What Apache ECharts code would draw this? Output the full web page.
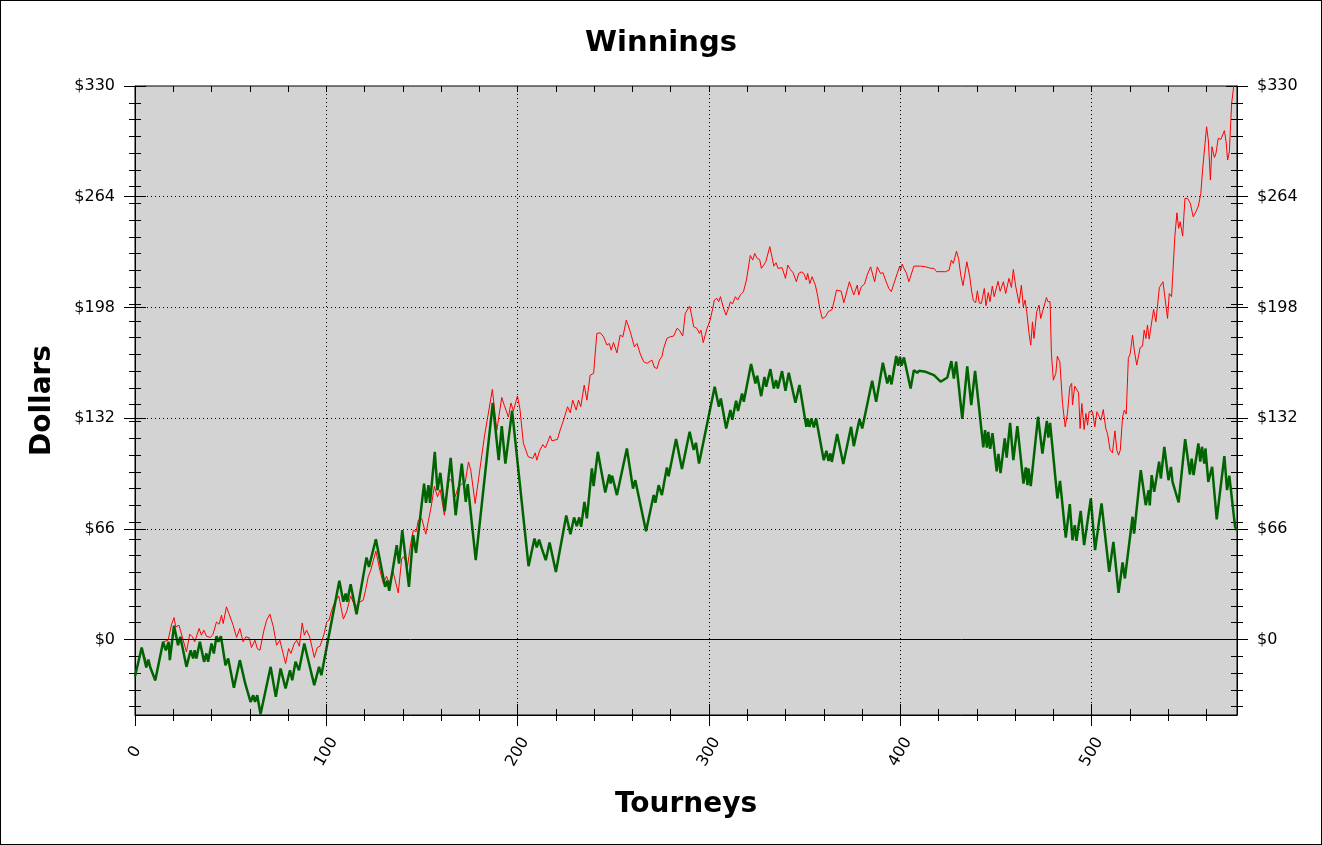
<!DOCTYPE html>
<html>
<head>
<meta charset="utf-8">
<script src="https://cdn.jsdelivr.net/npm/echarts@6/dist/echarts.min.js"></script>
<style>
  html, body { margin: 0; padding: 0; background: #fff; }
  #chart { position: absolute; left: 0; top: 0; width: 1322px; height: 845px; }
  #frame { position: absolute; left: 0; top: 0; width: 1322px; height: 845px; box-sizing: border-box; border: 1px solid #000; pointer-events: none; }
</style>
</head>
<body>
<div id="chart"></div>
<div id="frame"></div>
<script>
// ---- data ----
const xMajorTicks = [0, 100, 200, 300, 400, 500];
const xMinorTicks = [0, 20, 40, 60, 80, 100, 120, 140, 160, 180, 200, 220, 240, 260, 280, 300, 320, 340, 360, 380, 400, 420, 440, 460, 480, 500, 520, 540, 560];
const yMajorTicks = [0, 66, 132, 198, 264, 330];
const yMinorTicks = [-40, -30, -20, -10, 0, 10, 20, 30, 40, 50, 60, 70, 80, 90, 100, 110, 120, 130, 140, 150, 160, 170, 180, 190, 200, 210, 220, 230, 240, 250, 260, 270, 280, 290, 300, 310, 320, 330];
const xRange = [0, 576];
const yRange = [-45, 330];

// red series: [tourney, dollars]
const winningsRed = [
  [0,-22],[3.5,-5],[5.9,-13],[8,-16.7],[10.4,-24.7],[14.7,-1.4],[17.3,-0.4],[19,8.5],[20.4,13.1],[21.3,7.6],[23,8.5],[23.7,5.6],
  [26.9,-7.4],[28.6,3.2],[30,1.6],[31.2,-1.4],[33.5,6.6],[34.7,2.6],[36,5.6],[37.3,2],[39.4,1.2],[40.8,3.2],[42.6,10.5],[44,9.1],
  [45.2,14.5],[46.1,9.5],[47.8,19.5],[48.7,20.5],[51.3,8.5],[53.1,1.2],[54.8,6.6],[56.5,-1.4],[57.9,1.6],[59.7,1],[60.9,-4.8],
  [62.7,-0.4],[63.9,-5.4],[65.3,-6.4],[67.4,5.6],[68.8,11.5],[70.5,15.1],[72.3,7.6],[74,-3.4],[75.7,-0.4],[78.7,-14.3],[80.3,-5.4],
  [81.5,-8.3],[83.1,-2.8],[84.5,-0.4],[85.9,-4],[87.4,9.9],[88.5,2.6],[89.7,5.6],[91.4,1.2],[93.7,-10.7],[95.3,-4.8],[96.7,-4],
  [97.7,-4.8],[98.8,3.2],[100.2,10.5],[101.4,11.5],[102.8,17.5],[104.5,22.5],[106.5,26],[108.9,12.2],[110.6,16.5],[112.7,26],
  [115,19.5],[117.6,22.4],[119.3,23.4],[120.5,29.4],[121.9,37.4],[123.2,41.3],[125.9,52.7],[128,41.3],[129.8,33.4],[131.5,37.7],
  [132.9,33.4],[134.7,41.3],[137.6,27.8],[139.4,48.3],[140.6,49.3],[142.4,43.3],[144.1,57.2],[145.5,65.2],[146.9,64.2],[148.1,71.1],
  [149.9,72.1],[152,62.8],[153.4,71.1],[154.8,79.1],[156.5,91.4],[158.1,85.1],[159.5,89.4],[161.7,74.1],[163,87],[164.2,95.4],
  [165.6,95],[167.3,85.1],[169,91],[171.1,93],[172.5,93],[174.3,105.9],[175.5,101],[177.8,81.1],[182.6,120.8],[186.8,149.1],
  [189.1,124.8],[191.7,144.3],[193,139.7],[195.2,132.6],[196.5,141],[197.8,136.3],[199.9,145.2],[201.2,137.5],[203,117],[205.5,109],
  [207.9,108],[209.2,111.3],[210,106.9],[211.6,112.9],[213.2,116.2],[214.5,114.2],[217,121.5],[217.9,118.5],[220.8,119.3],[222.2,124.8],
  [224,130.8],[224.8,130.4],[226.1,138.8],[227.5,135.2],[228.8,142.7],[230.6,136.8],[231.8,142.7],[233,138.8],[234.8,151.7],[236.2,142.7],
  [237.9,157.6],[239.7,158.6],[241.4,182.5],[243.2,182.9],[244.9,180.5],[246.7,175.5],[247.9,176.5],[248.9,172.5],[250.1,177.1],
  [251.9,170.9],[253.6,181.5],[255,180.5],[256.8,190.4],[258.9,183.5],[259.8,184.5],[261,174.5],[262.4,176.5],[264.1,170.2],[265.9,165.6],
  [267.6,164.6],[270.2,166.6],[271.5,162.2],[272.9,161.6],[274.1,166.6],[275.4,168.6],[276.3,173.5],[278,179.5],[279.8,180.5],[281.5,180.9],
  [283.3,185.5],[284.5,184.5],[286.3,180.9],[287.6,194.4],[289.9,198.8],[291.1,192.4],[292,186.5],[293.7,185.5],[295,182.5],[295.8,184.5],
  [297,177],[298,177],[299,185.5],[300.5,190],[302,197.4],[302.8,202.4],[304.2,203.4],[305.1,201.4],[306,204.4],[307.5,198],[308.9,193.4],
  [310.5,198.4],[311.2,201.4],[312.3,200],[313.8,204.4],[315,202.4],[316.4,205.4],[318,207.3],[319.6,214.3],[321.6,229],[322.9,226.2],
  [323.9,230.2],[325.2,227.2],[326.5,226.6],[327.4,221.3],[328.6,223.2],[329.7,225.2],[330.4,224.2],[331.8,234.2],[333,227.8],[333.9,222.6],
  [335.1,224.6],[336.1,221.3],[338.2,221.7],[340,215.3],[341.2,223.2],[342.6,220.6],[344,218.6],[345.7,213.3],[346.9,218.2],[348.3,219.2],
  [349.6,218.2],[350.9,214.3],[351.6,218.2],[352.7,212.2],[353.9,216.3],[355.6,211.3],[356.9,204.4],[357.9,197.4],[359.2,191.4],[360.9,192.4],
  [362.3,195.4],[364.4,196.8],[366.7,208.3],[369.1,207.7],[370.5,200.8],[371.4,200.4],[373.4,213.3],[374.3,213.7],[375.7,205.4],[377.5,211.3],
  [378.3,205.4],[379.6,210.3],[381.3,211.9],[382.7,217.3],[384.5,222.2],[386.6,213.3],[388,222.2],[389.7,218.2],[390.9,218.8],[392.3,214.3],
  [394,209.3],[395.3,207.4],[396.7,212.3],[398.4,218.2],[399.7,222.6],[400.2,220.2],[401,223.8],[401.9,221.3],[403.3,218.2],[404.5,213.3],
  [405.4,214.3],[407.1,222.6],[410.6,222.6],[413.3,222.2],[415.9,221.3],[417.6,221.3],[419,219.3],[423.7,219.3],[425.5,220.2],[426.7,226.2],
  [427.7,224.2],[429.4,231.5],[430.5,227],[431.6,217.3],[432.8,211],[434.8,225.2],[436.4,215.8],[437.2,208.3],[438.2,202],[439.4,200.8],
  [440.3,207.9],[441.3,200.6],[442.4,200.4],[443.4,199.4],[443.9,209.3],[444.8,199],[446,206.8],[446.9,201.4],[448.1,210.7],[449.1,204.4],
  [451.1,213.5],[452.2,207.6],[453.9,213.3],[455.1,206.3],[456.8,215.3],[458.1,209.9],[459.1,220.6],[460.3,210.7],[461.2,210.3],[462.1,200.4],
  [463.3,211.3],[464.3,198.4],[465.2,202.4],[466.1,195.4],[467.3,182.5],[468.2,175.5],[469.1,189.4],[469.9,179.5],[471.3,195.4],[472.5,199.4],
  [473.4,191.4],[474.4,191.4],[476.4,203.9],[477.2,201.4],[478.3,201.4],[479,170.5],[480,154.6],[481.3,158.6],[482.1,168.9],[483.4,165.6],
  [484.8,140.7],[486.2,126.8],[487.4,134.8],[488.6,150.7],[489.6,152.7],[490,139.8],[491.2,151.1],[493.2,147.1],[494,125.8],[494.9,140.7],
  [496.1,125.2],[497,134.8],[497.9,127.8],[498.7,135.8],[500.5,135.8],[501.7,126.8],[502.8,135.8],[504,132.8],[504.9,130.8],[506.1,137.1],
  [507.4,125.8],[508.3,122.8],[509.7,112.9],[510.9,111.3],[512.2,124.4],[513.2,112.9],[514.1,109.9],[515,112.9],[516.2,132.8],[517.1,136.8],
  [518.1,134.4],[519.2,167.6],[520.2,170.5],[521.4,181.5],[522.3,172.5],[523.6,163.6],[524.4,164.6],[525.4,174.1],[526.6,174.9],[527.5,184.5],
  [528.4,179.5],[529.2,187.4],[530.1,179.1],[531,180.1],[532.4,196.8],[533.6,189.4],[535.4,209.8],[536.2,209.3],[537.3,213.3],[538.3,213.3],
  [539.7,191.4],[540.6,206.3],[541.8,204.4],[543.5,240.1],[544.6,254.4],[545.5,245.1],[546.3,249.1],[547.6,240.5],[548.8,263],[550.2,263],
  [551.6,260],[553.1,252],[554.5,255],[555.8,258.4],[557.1,266],[558,279.9],[559.3,295.8],[560.1,305.7],[561,297.8],[562.1,273.9],
  [562.9,293.8],[564.2,287.4],[565,289.8],[566.2,298.8],[567.6,298.2],[568.5,300.8],[569.4,303.4],[570.3,296.8],[571.1,285.9],[572,290.8],
  [573.2,319.7],[574.3,330]
];

// green series: [tourney, dollars]
const winningsGreen = [
  [0,-22],[3.5,-4.8],[5.9,-16.7],[7,-11.9],[8,-16.7],[10.6,-24.3],[14.7,-1.4],[16.1,-6.4],[17.6,-1.4],[18.2,-12.3],[20.4,8.2],[22.5,-3.4],
  [23.7,1.6],[26.9,-16.3],[29.1,-6.4],[30.4,-11.3],[31.2,-6.4],[32.1,-11.3],[33.9,-1.4],[36.1,-13.3],[37.3,-8.3],[38.2,-13.3],[40,-2.4],
  [41.2,-8.3],[42.6,2],[43.6,-1.4],[44.9,2],[47.3,-15.3],[48.7,-11.3],[51.7,-28.8],[54.8,-12.3],[57.6,-26.2],[60.4,-37.2],[61.8,-33.2],
  [62.7,-37.2],[63.9,-33.2],[65.6,-44.5],[70.9,-16.3],[73.6,-34.2],[76.1,-17.3],[78.7,-29.2],[81,-18.3],[82.2,-24.3],[83.9,-13.3],
  [85.7,-18.3],[88.5,-2.4],[89.7,-8.3],[93.7,-27.2],[96.2,-16.3],[97.4,-21.3],[106.8,35],[108.9,22.5],[110.1,27.4],[110.9,22.5],
  [112.7,33],[115.8,15.1],[121,48.9],[122.3,43.3],[125.9,59.8],[130.7,31.4],[131.9,35],[132.9,29],[136.8,56.2],[138,45.3],[139.7,65.2],
  [143.2,31.4],[145.4,62.2],[146.9,51.7],[151.1,93],[152.1,81.5],[153.4,92],[154.2,81.5],[156.7,111.9],[158.1,89],[159.6,99.4],
  [161.9,76.5],[165,108.3],[167.6,74.1],[170.8,104.9],[172.9,82.1],[173.9,92.6],[178.1,47.3],[187,141.1],[190.1,107],[191.7,127.2],
  [193.6,104.9],[197.1,136.4],[205.7,43.7],[208.8,60.2],[210,54.9],[211.2,59.6],[212.6,54.3],[214.7,47.3],[216.7,57.8],[220,40.3],
  [225.4,73.9],[227.6,62.8],[229.5,72.8],[230.9,67.6],[232.2,72.8],[233.2,67.2],[234.9,82.1],[236.2,72.2],[238.8,102],[239.7,91.4],
  [241.9,111.9],[245.8,87.7],[247.9,98.4],[248.6,93],[249.4,97.6],[251.9,86.1],[257.1,113.9],[260.3,90],[261.5,95],[267.1,64.6],
  [271.1,86.1],[272,81.5],[273.7,92],[275.4,86.1],[278,102.6],[278.9,97.4],[282.8,119.5],[285.9,101.6],[289.9,123.9],[292,113],
  [293.2,117.3],[294.8,104.9],[303,150.7],[305.2,138.8],[306.2,143.7],[309,125.8],[311.2,136.8],[312.2,131],[314.2,142.4],[315.2,136.3],
  [317.3,146.7],[318.2,141.7],[322,164.2],[324.3,152.7],[325.2,157.2],[327.3,145.1],[329,156.6],[329.9,150.7],[332.1,161.2],[333.9,149.7],
  [335.1,154.6],[336,149.7],[338.2,160],[340,148.3],[341.7,159],[345.2,141.1],[347.3,151.7],[350.9,126.8],[351.6,131.8],[352.5,126.8],
  [353.6,131.8],[354.8,126.4],[356,131.8],[360,106.9],[361.4,112.5],[362.5,106.5],[363.5,111],[364.2,105.9],[367,122.5],[370.2,104.6],
  [374.3,126.8],[375.7,115.3],[378.7,131.4],[380.1,125.8],[385.3,154.3],[387.4,141.7],[390.9,165],[393.2,152.7],[394.4,157.6],[395.4,152.1],
  [397.9,169],[398.9,163.2],[399.8,168.6],[400.7,163.2],[401.9,168.2],[405.4,149.7],[407.1,160.6],[408.9,159],[409.8,160.2],[413.3,159.6],
  [417.6,157.6],[421.1,153.7],[424.6,156.2],[425.5,155.6],[426.7,166],[428,155.6],[429.2,165.6],[432.4,131.5],[435,162.8],[437.1,139.8],
  [439.1,160.2],[443.4,114.6],[444.3,124.8],[445.3,114.4],[446,123.8],[447,113.7],[448.2,123],[450.4,100.3],[451.3,110.7],[452.4,99.2],
  [454.6,119.9],[455.6,108.5],[457.4,129.2],[459.1,107],[461.2,127.2],[464.4,93],[465.6,102.6],[466.5,92],[467,102],[468.2,91.4],
  [472,132.8],[474.3,110.9],[476.6,130.4],[477.4,120.4],[478.3,129.2],[482.1,84.1],[483.5,94.6],[486.5,60.8],[488.6,80.7],[490,59.2],
  [491.2,68.2],[492.1,58.8],[494.3,76.7],[496.1,56.3],[499.6,84.1],[501.8,53.3],[505.2,81.1],[509.2,40.3],[511.4,58.2],[514.1,27.8],
  [516.2,45.9],[517.4,36.4],[521.4,73.2],[522.2,63.2],[525.7,101],[528.3,80.1],[529.8,89],[530.4,80],[531.4,98],[532.7,88],[535.3,106],
  [536.2,96],[538,114.9],[540.2,95],[541.5,102.9],[542.3,94],[545.5,81.7],[548.9,119.4],[551.4,98.4],[552.3,107.9],[553.3,98],
  [555.8,116.9],[556.8,106],[557.7,114.9],[558.9,104.9],[559.5,113.9],[561,94],[563,103],[565.4,71.6],[569.4,109.3],[570.8,89.1],
  [572,97.6],[575,67.2],[576,65]
];

// ---- chart ----
const FONT = 'DejaVu Sans';
const BLACK = '#000000';

function tickOnlyAxis(position, values, length, inside, range) {
  return {
    type: 'value', position: position, min: range[0], max: range[1],
    axisLine: { show: false, onZero: false },
    axisLabel: { show: false },
    splitLine: { show: false },
    axisTick: { show: true, inside: inside, length: length, customValues: values, lineStyle: { color: BLACK, width: 1 } }
  };
}

function mainYAxis(position) {
  const ax = {
    type: 'value', position: position, min: yRange[0], max: yRange[1],
    axisLine: { show: true, onZero: false, lineStyle: { color: BLACK, width: 1 } },
    axisTick: { show: true, inside: false, length: 11, customValues: yMajorTicks, lineStyle: { color: BLACK, width: 1 } },
    axisLabel: { show: true, customValues: yMajorTicks, margin: 20, color: BLACK, fontFamily: FONT, fontSize: 16,
                 formatter: function (v) { return '$' + v; } },
    splitLine: { show: false }
  };
  if (position === 'left') {
    ax.name = 'Dollars';
    ax.nameLocation = 'middle';
    ax.nameGap = 78;
    ax.nameTextStyle = { color: BLACK, fontFamily: FONT, fontSize: 28, fontWeight: 'bold' };
  }
  return ax;
}

const gridLineData = [];
xMajorTicks.forEach(function (v) { if (v > 0) gridLineData.push({ xAxis: v }); });
yMajorTicks.forEach(function (v) {
  if (v === 0) gridLineData.push({ yAxis: v, lineStyle: { type: 'solid', color: BLACK, width: 1 } });
  else if (v < yRange[1]) gridLineData.push({ yAxis: v });
});

const option = {
  animation: false,
  backgroundColor: '#ffffff',
  title: {
    text: 'Winnings', left: 'center', top: 24,
    textStyle: { color: BLACK, fontFamily: FONT, fontSize: 29, fontWeight: 'bold' }
  },
  grid: {
    left: 135, right: 85, top: 86, bottom: 130,
    show: true, backgroundColor: '#d3d3d3', borderColor: BLACK, borderWidth: 1
  },
  xAxis: [
    {
      type: 'value', position: 'bottom', min: xRange[0], max: xRange[1],
      axisLine: { show: true, onZero: false, lineStyle: { color: BLACK, width: 1 } },
      axisTick: { show: true, inside: false, length: 11, customValues: xMajorTicks, lineStyle: { color: BLACK, width: 1 } },
      axisLabel: { show: true, customValues: xMajorTicks, rotate: 60, align: 'center', verticalAlign: 'middle', margin: 37,
                   color: BLACK, fontFamily: FONT, fontSize: 16 },
      splitLine: { show: false },
      name: 'Tourneys', nameLocation: 'middle', nameGap: 76,
      nameTextStyle: { color: BLACK, fontFamily: FONT, fontSize: 28, fontWeight: 'bold' }
    },
    tickOnlyAxis('bottom', xMinorTicks, 6, false, xRange),
    tickOnlyAxis('bottom', xMinorTicks, 6, true, xRange),
    tickOnlyAxis('bottom', xMajorTicks, 11, true, xRange),
    tickOnlyAxis('top', xMinorTicks, 6, true, xRange)
  ],
  yAxis: [
    mainYAxis('left'),
    tickOnlyAxis('left', yMinorTicks, 6, false, yRange),
    tickOnlyAxis('left', yMinorTicks, 6, true, yRange),
    tickOnlyAxis('left', yMajorTicks, 11, true, yRange),
    mainYAxis('right'),
    tickOnlyAxis('right', yMinorTicks, 6, false, yRange),
    tickOnlyAxis('right', yMinorTicks, 6, true, yRange),
    tickOnlyAxis('right', yMajorTicks, 11, true, yRange)
  ],
  series: [
    {
      type: 'line', name: 'grid', xAxisIndex: 0, yAxisIndex: 0, data: [], z: 1, silent: true,
      markLine: {
        silent: true, symbol: ['none', 'none'], animation: false,
        label: { show: false },
        lineStyle: { type: [1, 3], color: BLACK, width: 1 },
        emphasis: { disabled: true },
        data: gridLineData
      }
    },
    {
      type: 'line', name: 'red', xAxisIndex: 0, yAxisIndex: 0, data: winningsRed, z: 3,
      showSymbol: false, symbol: 'none', silent: true,
      lineStyle: { color: '#ff0000', width: 1 }
    },
    {
      type: 'line', name: 'green', xAxisIndex: 0, yAxisIndex: 0, data: winningsGreen, z: 4,
      showSymbol: false, symbol: 'none', silent: true,
      lineStyle: { color: '#006400', width: 2.5 }
    }
  ]
};

const chart = echarts.init(document.getElementById('chart'), null, { renderer: 'canvas' });
chart.setOption(option);
</script>
</body>
</html>
